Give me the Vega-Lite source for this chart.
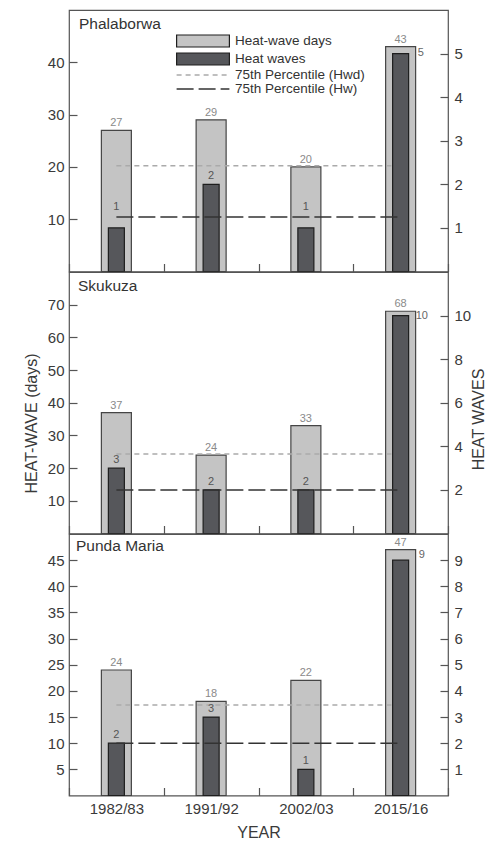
{
  "$schema": "https://vega.github.io/schema/vega-lite/v6.json",
  "padding": {"left": 22, "top": 9, "right": 0, "bottom": 0},
  "background": "white",
  "bounds": "flush",
  "spacing": 0,
  "datasets": {
    "hw": [
      {"station": "Phalaborwa", "year": "1982/83", "hwd": 27, "hw": 1},
      {"station": "Phalaborwa", "year": "1991/92", "hwd": 29, "hw": 2},
      {"station": "Phalaborwa", "year": "2002/03", "hwd": 20, "hw": 1},
      {"station": "Phalaborwa", "year": "2015/16", "hwd": 43, "hw": 5},
      {"station": "Skukuza", "year": "1982/83", "hwd": 37, "hw": 3},
      {"station": "Skukuza", "year": "1991/92", "hwd": 24, "hw": 2},
      {"station": "Skukuza", "year": "2002/03", "hwd": 33, "hw": 2},
      {"station": "Skukuza", "year": "2015/16", "hwd": 68, "hw": 10},
      {"station": "Punda Maria", "year": "1982/83", "hwd": 24, "hw": 2},
      {"station": "Punda Maria", "year": "1991/92", "hwd": 18, "hw": 3},
      {"station": "Punda Maria", "year": "2002/03", "hwd": 22, "hw": 1},
      {"station": "Punda Maria", "year": "2015/16", "hwd": 47, "hw": 9}
    ],
    "p75": [
      {"station": "Phalaborwa", "hwd75": 20.2, "hw75": 1.25},
      {"station": "Skukuza", "hwd75": 24.3, "hw75": 2},
      {"station": "Punda Maria", "hwd75": 17.3, "hw75": 2}
    ]
  },
  "config": {
    "font": "Liberation Sans",
    "view": {"stroke": "#555555", "strokeWidth": 1.2},
    "axis": {
      "domain": false, "grid": false, "tickColor": "#555555", "tickSize": -8, "tickWidth": 1.2, "labelOverlap": false,
      "labelFont": "Liberation Sans", "labelFontSize": 15, "labelColor": "#3a3a3a", "labelPadding": 13,
      "titleFont": "Liberation Sans", "titleFontSize": 16, "titleFontWeight": "normal", "titleColor": "#3a3a3a"
    },
    "legend": {"labelFont": "Liberation Sans", "labelFontSize": 13.5, "labelColor": "#333333"},
    "title": {"font": "Liberation Sans", "fontSize": 15.5, "fontWeight": "normal", "color": "#333333"}
  },
  "resolve": {
    "scale": {"fill": "independent", "stroke": "independent", "strokeDash": "independent"},
    "legend": {"fill": "independent", "stroke": "independent", "strokeDash": "independent"}
  },
  "vconcat": [
    {
      "width": 379, "height": 261.5,
      "title": {"text": "Phalaborwa", "anchor": "start", "frame": "group", "offset": -34, "dx": 10, "baseline": "alphabetic"},
      "data": {"name": "hw"},
      "transform": [
        {"filter": "datum.station === 'Phalaborwa'"},
        {"lookup": "station", "from": {"data": {"name": "p75"}, "key": "station", "fields": ["hwd75", "hw75"]}}
      ],
      "encoding": {
        "x": {"field": "year", "type": "nominal", "sort": null, "scale": {"paddingInner": 0, "paddingOuter": 0},
              "axis": {"orient": "bottom", "tickBand": "extent", "labels": false, "title": null}}
      },
      "layer": [
        {"layer": [
          {"mark": {"type": "bar", "width": 30, "stroke": "#454545", "strokeWidth": 1.2},
           "encoding": {
             "y": {"field": "hwd", "type": "quantitative", "scale": {"domain": [0, 50], "nice": false},
                   "axis": {"orient": "left", "values": [10, 20, 30, 40], "tickCount": 20, "format": "d", "title": null, "labelOverlap": false}},
             "fill": {"datum": "Heat-wave days", "type": "nominal",
                      "scale": {"domain": ["Heat-wave days", "Heat waves"], "range": ["#c4c4c4", "#56575b"]},
                      "legend": {"orient": "none", "legendX": 127, "legendY": 24, "title": null, "padding": 0,
                                 "symbolType": "M-4.4,-1H4.4V1H-4.4Z", "symbolSize": 144, "symbolStrokeColor": "#333333",
                                 "symbolStrokeWidth": 1.2, "symbolOpacity": 1, "labelOffset": 25, "rowPadding": 0}}
           }},
          {"mark": {"type": "text", "baseline": "alphabetic", "dy": -4, "fontSize": 11, "color": "#8a8a8a"},
           "encoding": {"y": {"field": "hwd", "type": "quantitative"}, "text": {"field": "hwd", "type": "quantitative"}}},
          {"mark": {"type": "line", "strokeWidth": 1.5},
           "encoding": {
             "y": {"field": "hwd75", "type": "quantitative"},
             "stroke": {"datum": "75th Percentile (Hwd)", "type": "nominal",
                        "scale": {"domain": ["75th Percentile (Hwd)", "75th Percentile (Hw)"], "range": ["#aaaaaa", "#333333"]},
                        "legend": {"orient": "none", "legendX": 127, "legendY": 58, "title": null, "padding": 0,
                                   "symbolType": "M-4.4,0H4.4", "symbolSize": 144, "symbolStrokeWidth": 1.4,
                                   "symbolOpacity": 1, "labelOffset": 25, "rowPadding": 0}},
             "strokeDash": {"datum": "75th Percentile (Hwd)", "type": "nominal",
                            "scale": {"domain": ["75th Percentile (Hwd)", "75th Percentile (Hw)"], "range": [[5, 4], [17, 5]]},
                            "legend": {"orient": "none", "legendX": 127, "legendY": 58, "title": null, "padding": 0,
                                       "symbolType": "M-4.4,0H4.4", "symbolSize": 144, "symbolStrokeWidth": 1.4,
                                       "symbolOpacity": 1, "labelOffset": 25, "rowPadding": 0}}
           }}
        ]},
        {"layer": [
          {"mark": {"type": "bar", "width": 16, "stroke": "#1e1e1e", "strokeWidth": 1.2},
           "encoding": {
             "y": {"field": "hw", "type": "quantitative", "scale": {"domain": [0, 6], "nice": false},
                   "axis": {"orient": "right", "values": [1, 2, 3, 4, 5], "tickCount": 20, "format": "d", "title": null, "labelPadding": 14, "labelOverlap": false}},
             "fill": {"datum": "Heat waves", "type": "nominal"}
           }},
          {"transform": [{"filter": "datum.year !== '2015/16' && datum.hw !== 1"}],
           "mark": {"type": "text", "baseline": "alphabetic", "dy": -5, "fontSize": 11, "color": "#555555"},
           "encoding": {"y": {"field": "hw", "type": "quantitative"}, "text": {"field": "hw", "type": "quantitative"}}},
          {"transform": [{"filter": "datum.year !== '2015/16' && datum.hw === 1"}],
           "mark": {"type": "text", "baseline": "alphabetic", "dy": -18, "fontSize": 11, "color": "#555555"},
           "encoding": {"y": {"field": "hw", "type": "quantitative"}, "text": {"field": "hw", "type": "quantitative"}}},
          {"transform": [{"filter": "datum.year === '2015/16'"}],
           "mark": {"type": "text", "baseline": "middle", "align": "left", "dx": 17, "dy": -1, "fontSize": 11, "color": "#666666"},
           "encoding": {"y": {"field": "hw", "type": "quantitative"}, "text": {"field": "hw", "type": "quantitative"}}},
          {"mark": {"type": "line", "strokeWidth": 1.5},
           "encoding": {
             "y": {"field": "hw75", "type": "quantitative"},
             "stroke": {"datum": "75th Percentile (Hw)", "type": "nominal"},
             "strokeDash": {"datum": "75th Percentile (Hw)", "type": "nominal"}
           }}
        ]}
      ],
      "resolve": {"scale": {"y": "independent"}}
    },
    {
      "width": 379, "height": 261.5,
      "title": {"text": "Skukuza", "anchor": "start", "frame": "group", "offset": -34, "dx": 9, "baseline": "alphabetic"},
      "data": {"name": "hw"},
      "transform": [
        {"filter": "datum.station === 'Skukuza'"},
        {"lookup": "station", "from": {"data": {"name": "p75"}, "key": "station", "fields": ["hwd75", "hw75"]}}
      ],
      "encoding": {
        "x": {"field": "year", "type": "nominal", "sort": null, "scale": {"paddingInner": 0, "paddingOuter": 0},
              "axis": {"orient": "bottom", "tickBand": "extent", "labels": false, "title": null}}
      },
      "layer": [
        {"layer": [
          {"mark": {"type": "bar", "width": 30, "fill": "#c4c4c4", "stroke": "#454545", "strokeWidth": 1.2},
           "encoding": {
             "y": {"field": "hwd", "type": "quantitative", "scale": {"domain": [0, 80], "nice": false},
                   "axis": {"orient": "left", "values": [10, 20, 30, 40, 50, 60, 70], "tickCount": 20, "format": "d", "title": "HEAT-WAVE (days)", "titleY": 151, "titlePadding": 8, "labelOverlap": false}}
           }},
          {"mark": {"type": "text", "baseline": "alphabetic", "dy": -4, "fontSize": 11, "color": "#8a8a8a"},
           "encoding": {"y": {"field": "hwd", "type": "quantitative"}, "text": {"field": "hwd", "type": "quantitative"}}},
          {"mark": {"type": "line", "strokeDash": [5, 4], "strokeWidth": 1.5, "stroke": "#aaaaaa"},
           "encoding": {"y": {"field": "hwd75", "type": "quantitative"}}}
        ]},
        {"layer": [
          {"mark": {"type": "bar", "width": 16, "fill": "#56575b", "stroke": "#1e1e1e", "strokeWidth": 1.2},
           "encoding": {
             "y": {"field": "hw", "type": "quantitative", "scale": {"domain": [0, 12], "nice": false},
                   "axis": {"orient": "right", "values": [2, 4, 6, 8, 10], "tickCount": 20, "format": "d", "title": "HEAT WAVES", "titleAngle": 270, "titleBaseline": "top", "titleY": 147, "titlePadding": 0, "labelPadding": 14, "labelOverlap": false}}
           }},
          {"transform": [{"filter": "datum.year !== '2015/16'"}],
           "mark": {"type": "text", "baseline": "alphabetic", "dy": -5, "fontSize": 11, "color": "#555555"},
           "encoding": {"y": {"field": "hw", "type": "quantitative"}, "text": {"field": "hw", "type": "quantitative"}}},
          {"transform": [{"filter": "datum.year === '2015/16'"}],
           "mark": {"type": "text", "baseline": "middle", "align": "left", "dx": 15, "dy": 0, "fontSize": 11, "color": "#666666"},
           "encoding": {"y": {"field": "hw", "type": "quantitative"}, "text": {"field": "hw", "type": "quantitative"}}},
          {"mark": {"type": "line", "strokeDash": [17, 5], "strokeWidth": 1.5, "stroke": "#333333"},
           "encoding": {"y": {"field": "hw75", "type": "quantitative"}}}
        ]}
      ],
      "resolve": {"scale": {"y": "independent"}}
    },
    {
      "width": 379, "height": 261.5,
      "title": {"text": "Punda Maria", "anchor": "start", "frame": "group", "offset": -32, "dx": 7, "baseline": "alphabetic"},
      "data": {"name": "hw"},
      "transform": [
        {"filter": "datum.station === 'Punda Maria'"},
        {"lookup": "station", "from": {"data": {"name": "p75"}, "key": "station", "fields": ["hwd75", "hw75"]}}
      ],
      "encoding": {
        "x": {"field": "year", "type": "nominal", "sort": null, "scale": {"paddingInner": 0, "paddingOuter": 0},
              "axis": {"orient": "bottom", "tickBand": "extent", "labels": true, "labelAngle": 0, "title": "YEAR", "titlePadding": 8, "labelPadding": 14}}
      },
      "layer": [
        {"layer": [
          {"mark": {"type": "bar", "width": 30, "fill": "#c4c4c4", "stroke": "#454545", "strokeWidth": 1.2},
           "encoding": {
             "y": {"field": "hwd", "type": "quantitative", "scale": {"domain": [0, 50], "nice": false},
                   "axis": {"orient": "left", "values": [5, 10, 15, 20, 25, 30, 35, 40, 45], "tickCount": 20, "format": "d", "title": null, "labelOverlap": false}}
           }},
          {"mark": {"type": "text", "baseline": "alphabetic", "dy": -4, "fontSize": 11, "color": "#8a8a8a"},
           "encoding": {"y": {"field": "hwd", "type": "quantitative"}, "text": {"field": "hwd", "type": "quantitative"}}},
          {"mark": {"type": "line", "strokeDash": [5, 4], "strokeWidth": 1.5, "stroke": "#aaaaaa"},
           "encoding": {"y": {"field": "hwd75", "type": "quantitative"}}}
        ]},
        {"layer": [
          {"mark": {"type": "bar", "width": 16, "fill": "#56575b", "stroke": "#1e1e1e", "strokeWidth": 1.2},
           "encoding": {
             "y": {"field": "hw", "type": "quantitative", "scale": {"domain": [0, 10], "nice": false},
                   "axis": {"orient": "right", "values": [1, 2, 3, 4, 5, 6, 7, 8, 9], "tickCount": 20, "format": "d", "title": null, "labelPadding": 14, "labelOverlap": false}}
           }},
          {"transform": [{"filter": "datum.year !== '2015/16'"}],
           "mark": {"type": "text", "baseline": "alphabetic", "dy": -5, "fontSize": 11, "color": "#555555"},
           "encoding": {"y": {"field": "hw", "type": "quantitative"}, "text": {"field": "hw", "type": "quantitative"}}},
          {"transform": [{"filter": "datum.year === '2015/16'"}],
           "mark": {"type": "text", "baseline": "middle", "align": "left", "dx": 18, "dy": -5, "fontSize": 11, "color": "#666666"},
           "encoding": {"y": {"field": "hw", "type": "quantitative"}, "text": {"field": "hw", "type": "quantitative"}}},
          {"mark": {"type": "line", "strokeDash": [17, 5], "strokeWidth": 1.5, "stroke": "#333333"},
           "encoding": {"y": {"field": "hw75", "type": "quantitative"}}}
        ]}
      ],
      "resolve": {"scale": {"y": "independent"}}
    }
  ]
}
